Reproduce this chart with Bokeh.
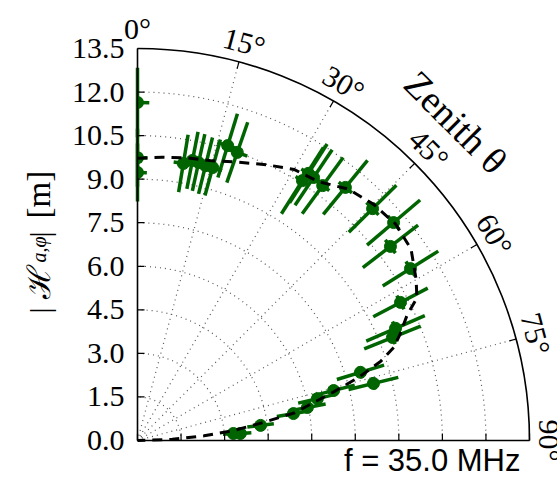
import numpy as np
from bokeh.plotting import figure
from bokeh.models import Range1d, Label
from bokeh.core.properties import value
from bokeh.embed import file_html
from bokeh.resources import INLINE

# ---------------- data ----------------
radial_ticks = [0.0, 1.5, 3.0, 4.5, 6.0, 7.5, 9.0, 10.5, 12.0, 13.5]
radial_tick_labels = ["0.0", "1.5", "3.0", "4.5", "6.0", "7.5", "9.0",
                      "10.5", "12.0", "13.5"]
angle_ticks = [0, 15, 30, 45, 60, 75, 90]
angle_tick_labels = ["0°", "15°", "30°", "45°", "60°", "75°", "90°"]

# measured points: zenith angle (deg), |H| (m), errors
meas_theta = [0.0, 0.0, 0.0, 9.4, 11.1, 12.4, 13.9, 15.4, 17.0, 19.1,
              32.4, 32.6, 33.8, 36.0, 39.4, 45.4, 49.6, 52.5, 57.8, 62.3,
              66.5, 68.0, 73.0, 76.4, 75.7, 76.9, 79.0, 80.2, 83.0, 86.1, 85.8]
meas_r = [11.64, 9.74, 9.23, 9.67, 9.83, 9.80, 9.75, 9.75, 10.62, 10.50,
          10.60, 10.92, 10.90, 10.85, 11.28, 11.37, 11.58, 10.98, 11.11, 10.23,
          9.69, 9.47, 8.03, 8.36, 6.97, 6.36, 5.96, 5.45, 4.27, 3.55, 3.31]
meas_r_err = [1.2, 1.0, 1.0, 1.0, 1.0, 1.0, 1.0, 1.0, 1.15, 1.1,
              1.35, 1.2, 1.15, 1.2, 1.2, 1.15, 1.2, 1.2, 1.13, 1.06,
              1.1, 1.05, 0.85, 0.88, 0.75, 0.68, 0.64, 0.58, 0.46, 0.38, 0.36]
meas_theta_err = [2.0, 2.0, 2.0, 2.0, 2.0, 2.0, 2.0, 2.0, 2.0, 2.0,
                  1.5, 1.5, 1.5, 1.5, 1.5, 1.5, 1.5, 1.5, 1.5, 1.5,
                  1.5, 1.5, 1.5, 1.5, 1.5, 1.5, 1.5, 1.5, 1.5, 1.5, 1.5]

# model curve
model_theta = [0, 5, 10, 15, 20, 25, 30, 35, 40, 45, 50, 55, 60, 63, 65, 68,
               70, 72, 74, 76, 78, 80, 82, 84, 86, 88, 90]
model_r = [9.72, 9.79, 9.88, 9.97, 10.2, 10.48, 10.78, 10.88, 11.3, 11.5, 11.6,
           11.5, 11.08, 10.8, 10.25, 9.75, 9.4, 8.8, 7.95, 7.0, 6.15, 5.5,
           4.3, 3.35, 2.3, 1.2, 0.0]

freq_text = "f = 35.0 MHz"
zenith_text = "Zenith θ"

# ---------------- layout ----------------
R_MAX = 13.5
PX = 392.0 / R_MAX          # pixels per metre
W, H = 557, 477
OX, OY = 137, 440           # origin position in the canvas
GREEN = "#006400"


def to_xy(theta_deg, r):
    t = np.radians(np.asarray(theta_deg, dtype=float))
    r = np.asarray(r, dtype=float)
    return r * np.sin(t), r * np.cos(t)


def cx(px):
    return (px - OX) / PX


def cy(py):
    return (OY - py) / PX


p = figure(width=W, height=H,
           x_range=Range1d(cx(0), cx(W)), y_range=Range1d(cy(H), cy(0)),
           output_backend="svg", toolbar_location=None, min_border=0)
p.outline_line_color = None
p.grid.visible = False
p.axis.visible = False

# dotted grid: circles and radial spokes
grid_r = radial_ticks[1:-1]
p.arc(x=[0] * len(grid_r), y=[0] * len(grid_r), radius=grid_r,
      start_angle=0, end_angle=np.pi / 2,
      line_color="#555555", line_dash="1 4", line_width=1.2)
spoke_theta = angle_ticks[1:-1]
sx, sy = to_xy(spoke_theta, [R_MAX] * len(spoke_theta))
p.segment(x0=[0] * len(spoke_theta), y0=[0] * len(spoke_theta), x1=sx, y1=sy,
          line_color="#555555", line_dash="1 4", line_width=1.2)

# error bars
mt = np.asarray(meas_theta)
mr = np.asarray(meas_r)
mre = np.asarray(meas_r_err)
mte = np.asarray(meas_theta_err)
rx0, ry0 = to_xy(mt, mr - mre)
rx1, ry1 = to_xy(mt, mr + mre)
p.segment(x0=rx0, y0=ry0, x1=rx1, y1=ry1, line_color=GREEN, line_width=3.5)
phi = np.radians(90.0 - mt)
p.arc(x=[0] * len(mt), y=[0] * len(mt), radius=mr,
      start_angle=phi - np.radians(mte),
      end_angle=np.minimum(phi + np.radians(mte), np.pi / 2),
      line_color=GREEN, line_width=3.5)

# markers (points exactly at the zenith are cut in half by the polar frame)
px_, py_ = to_xy(mt, mr)
on_edge = mt <= 0.0
p.scatter(px_[~on_edge], py_[~on_edge], size=12,
          fill_color=GREEN, line_color=GREEN)
p.wedge(x=px_[on_edge], y=py_[on_edge], radius=6.5, radius_units="screen",
        start_angle=-np.pi / 2, end_angle=np.pi / 2,
        fill_color=GREEN, line_color=None)

# spines (radial axis on the left and along the bottom) and outer arc
p.segment(x0=[0, 0], y0=[0, 0], x1=[0, R_MAX], y1=[R_MAX, 0],
          line_color="black", line_width=1.6)
p.arc(x=0, y=0, radius=R_MAX, start_angle=0, end_angle=np.pi / 2,
      line_color="black", line_width=1.6)

# tick marks
TL = 7 / PX
rt = np.asarray(radial_ticks)
p.segment(x0=np.zeros_like(rt), y0=rt, x1=np.full_like(rt, TL), y1=rt,
          line_color="black", line_width=1.2)
p.segment(x0=rt, y0=np.zeros_like(rt), x1=rt, y1=np.full_like(rt, TL),
          line_color="black", line_width=1.2)
tx0, ty0 = to_xy(spoke_theta, [R_MAX - TL] * len(spoke_theta))
p.segment(x0=tx0, y0=ty0, x1=sx, y1=sy, line_color="black", line_width=1.2)

# radial tick labels
p.text(x=np.zeros_like(rt), y=rt, text=radial_tick_labels, x_offset=-13,
       text_align="right", text_baseline="middle",
       text_font=value("Liberation Serif"), text_font_size=value("30px"),
       text_color="black")

# model curve
mx, my = to_xy(model_theta, model_r)
p.line(mx, my, line_color="black", line_width=3, line_dash="10 7")

# angle labels
LAB_R = 14.2
for th, txt in zip(angle_ticks, angle_tick_labels):
    lx, ly = to_xy([th], [LAB_R])
    p.add_layout(Label(x=float(lx[0]), y=float(ly[0]), text=txt,
                       angle=-np.radians(th), text_align="center",
                       text_baseline="middle", text_font="Liberation Serif",
                       text_font_size="30px", text_color="black"))

zx, zy = to_xy([45], [15.5])
p.add_layout(Label(x=float(zx[0]), y=float(zy[0]), text=zenith_text,
                   angle=-np.radians(45), text_align="center",
                   text_baseline="middle", text_font="Liberation Serif",
                   text_font_size="38px", text_color="black"))

# y-axis label  |H_{a,phi}| [m]  built from pieces (rotated, reading upward)
pieces = [("|", 38.5, 313, "30px", "normal", "Liberation Serif"),
          ("ℋ", 38.5, 298, "32px", "normal", "DejaVu Serif"),
          ("a,φ", 38, 262, "20px", "italic", "Liberation Serif"),
          ("|", 38.5, 237, "30px", "normal", "Liberation Serif"),
          ("[m]", 38.5, 218, "33px", "normal", "Liberation Serif")]
for txt, xx, yy, fs, st, fnt in pieces:
    p.add_layout(Label(x=cx(xx), y=cy(yy), text=txt, angle=np.pi / 2,
                       text_align="left", text_baseline="middle",
                       text_font=fnt, text_font_size=fs, text_font_style=st,
                       text_color="black"))

p.add_layout(Label(x=cx(520), y=cy(460), text=freq_text,
                   text_align="right", text_baseline="middle",
                   text_font="Liberation Sans", text_font_size="31px",
                   text_color="black"))

open("out.html", "w").write(file_html(p, INLINE))
